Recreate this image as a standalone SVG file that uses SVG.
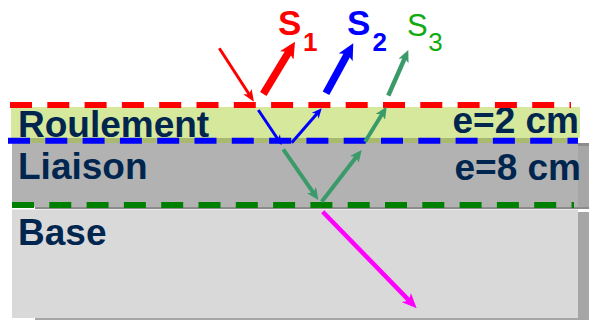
<svg xmlns="http://www.w3.org/2000/svg" width="589" height="320" viewBox="0 0 589 320">
  <style>
    .lbl { font-family: "Liberation Sans", Arial, sans-serif; font-weight: bold; font-size: 37px; fill: #00264f; }
    .sb { font-family: "Liberation Sans", Arial, sans-serif; font-weight: bold; }
    .sr { font-family: "Liberation Sans", Arial, sans-serif; font-weight: normal; }
    .dash { fill: none; stroke-width: 6; stroke-dasharray: 22 15.3; }
    .arr { fill: none; stroke-linecap: butt; }
  </style>
  <defs>
    <marker id="mRedThin" markerUnits="userSpaceOnUse" viewBox="0 0 12 10" markerWidth="12" markerHeight="10" refX="4" refY="5" orient="auto">
      <path d="M0,0 L12,5 L0,10 L3,5 z" fill="#ff0000"/>
    </marker>
    <marker id="mRedThick" markerUnits="userSpaceOnUse" viewBox="0 0 16 16" markerWidth="16" markerHeight="16" refX="5" refY="8" orient="auto">
      <path d="M0,0 L16,8 L0,16 L4,8 z" fill="#ff0000"/>
    </marker>
    <marker id="mBlueThick" markerUnits="userSpaceOnUse" viewBox="0 0 16 16" markerWidth="16" markerHeight="16" refX="5" refY="8" orient="auto">
      <path d="M0,0 L16,8 L0,16 L4,8 z" fill="#0000ff"/>
    </marker>
    <marker id="mBlueThin" markerUnits="userSpaceOnUse" viewBox="0 0 10 9" markerWidth="10" markerHeight="9" refX="4" refY="4.5" orient="auto">
      <path d="M0,0 L10,4.5 L0,9 L3,4.5 z" fill="#0000ff"/>
    </marker>
    <marker id="mGreen" markerUnits="userSpaceOnUse" viewBox="0 0 12 11" markerWidth="12" markerHeight="11" refX="4" refY="5.5" orient="auto">
      <path d="M0,0 L12,5.5 L0,11 L3,5.5 z" fill="#3a9a6a"/>
    </marker>
    <marker id="mMagenta" markerUnits="userSpaceOnUse" viewBox="0 0 15 13" markerWidth="15" markerHeight="13" refX="5" refY="6.5" orient="auto">
      <path d="M0,0 L15,6.5 L0,13 L4,6.5 z" fill="#ff00ff"/>
    </marker>
  </defs>

  <rect x="0" y="0" width="589" height="320" fill="#ffffff"/>

  <g id="base">
    <rect x="35" y="212" width="554" height="108" fill="#a6a6a6"/>
    <rect x="12" y="209.5" width="566" height="108.5" fill="#d9d9d9"/>
    <text class="lbl" x="18" y="245">Base</text>
  </g>

  <g id="liaison">
    <rect x="35" y="145" width="554" height="64" fill="#a6a6a6"/>
    <rect x="578" y="143" width="11" height="3" fill="#8c8c8c"/>
    <rect x="35" y="207" width="554" height="2" fill="#8c8c8c"/>
    <rect x="12" y="143" width="566" height="64" fill="#b2b2b2"/>
    <text class="lbl" x="18" y="178.5">Liaison</text>
    <text class="lbl" x="581" y="180" text-anchor="end">e=8 cm</text>
  </g>

  <g id="roulement">
    <rect x="11" y="107" width="569" height="31" fill="#d6e89b"/>
    <rect x="11" y="138" width="567" height="5" fill="#a9b96f"/>
    <text class="lbl" x="18" y="137">Roulement</text>
    <text class="lbl" x="579" y="132.5" text-anchor="end">e=2 cm</text>
  </g>

  <g id="interfaces">
    <line class="dash" x1="10" y1="105" x2="571" y2="105" stroke="#ff0000"/>
    <line class="dash" x1="8" y1="140.8" x2="578" y2="140.8" stroke="#0000ff"/>
    <line class="dash" x1="12" y1="205" x2="574" y2="205" stroke="#008000"/>
  </g>

  <g id="labels">
    <text class="sb" fill="#ff0000"><tspan x="278" y="34.5" font-size="35">S</tspan><tspan x="303" y="51" font-size="26">1</tspan></text>
    <text class="sb" fill="#0000ff"><tspan x="347" y="34.5" font-size="35">S</tspan><tspan x="372.5" y="51" font-size="26">2</tspan></text>
    <text class="sr" fill="#11aa11"><tspan x="407" y="36" font-size="31">S</tspan><tspan x="428.3" y="50.7" font-size="26">3</tspan></text>
  </g>

  <g id="connectors">
    <line class="arr" x1="219.3" y1="48.3" x2="249.6" y2="95.0" stroke="#ff0000" stroke-width="3" marker-end="url(#mRedThin)"/>
    <line class="arr" x1="263.3" y1="94" x2="289.3" y2="51.1" stroke="#ff0000" stroke-width="7.5" marker-end="url(#mRedThick)"/>
    <line class="arr" x1="326" y1="93.3" x2="348.0" y2="53.0" stroke="#0000ff" stroke-width="7.5" marker-end="url(#mBlueThick)"/>
    <line class="arr" x1="388.3" y1="95.7" x2="405.1" y2="57.3" stroke="#3a9a6a" stroke-width="4.5" marker-end="url(#mGreen)"/>
    <line class="arr" x1="258.3" y1="110" x2="278.4" y2="140.0" stroke="#0000ff" stroke-width="3" marker-end="url(#mBlueThin)"/>
    <line class="arr" x1="291.7" y1="142.7" x2="317.8" y2="112.8" stroke="#0000ff" stroke-width="3" marker-end="url(#mBlueThin)"/>
    <line class="arr" x1="283.3" y1="149.3" x2="313.8" y2="193.4" stroke="#3a9a6a" stroke-width="4" marker-end="url(#mGreen)"/>
    <line class="arr" x1="321.7" y1="201.7" x2="356.8" y2="156.3" stroke="#3a9a6a" stroke-width="4" marker-end="url(#mGreen)"/>
    <line class="arr" x1="365" y1="141.7" x2="382.5" y2="113.5" stroke="#3a9a6a" stroke-width="4" marker-end="url(#mGreen)"/>
    <line class="arr" x1="322.7" y1="211.7" x2="409.7" y2="301.1" stroke="#ff00ff" stroke-width="4.5" marker-end="url(#mMagenta)"/>
  </g>
</svg>
